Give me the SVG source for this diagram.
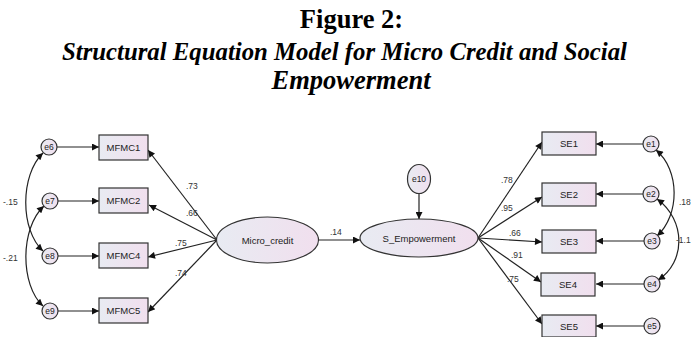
<svg xmlns="http://www.w3.org/2000/svg" width="693" height="337" viewBox="0 0 693 337">
<style>
.ttl{font-family:"Liberation Serif","Times New Roman",serif;font-weight:bold;fill:#000;text-anchor:middle}
.box{fill:url(#g);stroke:#333;stroke-width:1.2}
.lbl{font-family:"Liberation Sans",Arial,sans-serif;font-size:9.5px;fill:#222;text-anchor:middle}
.err{font-family:"Liberation Sans",Arial,sans-serif;font-size:8.5px;fill:#222;text-anchor:middle}
.coef{font-family:"Liberation Sans",Arial,sans-serif;font-size:8.5px;fill:#333}
.ln{stroke:#222;stroke-width:1.2;fill:none;marker-end:url(#ah)}
.cv{stroke:#222;stroke-width:1.2;fill:none;marker-end:url(#ah);marker-start:url(#ah)}
</style>
<defs>
<linearGradient id="g" x1="0" y1="0" x2="1" y2="0">
<stop offset="0" stop-color="#e8ebf2"/>
<stop offset="1" stop-color="#f1dfee"/>
</linearGradient>
<marker id="ah" viewBox="0 0 10 10" refX="10" refY="5" markerWidth="9" markerHeight="7" markerUnits="userSpaceOnUse" orient="auto-start-reverse">
<path d="M0,0 L10,5 L0,10 z" fill="#111"/>
</marker>
</defs>
<rect width="693" height="337" fill="#fff"/>
<g id="title">
<text class="ttl" x="351.5" y="28" font-size="26.5">Figure 2:</text>
<text class="ttl" x="344.5" y="60" font-size="25" font-style="italic" textLength="565" lengthAdjust="spacingAndGlyphs">Structural Equation Model for Micro Credit and Social</text>
<text class="ttl" x="351" y="89" font-size="26.5" font-style="italic">Empowerment</text>
</g>
<g id="connectors">
<line class="ln" x1="57" y1="147" x2="99" y2="147"/>
<line class="ln" x1="58" y1="201" x2="99" y2="201"/>
<line class="ln" x1="58" y1="256" x2="99" y2="256"/>
<line class="ln" x1="58" y1="311" x2="99" y2="311"/>
<line class="ln" x1="217" y1="240" x2="148" y2="150"/>
<line class="ln" x1="217" y1="240" x2="149" y2="205"/>
<line class="ln" x1="217" y1="240" x2="148" y2="257"/>
<line class="ln" x1="217" y1="240" x2="148" y2="312"/>
<line class="ln" x1="318" y1="240" x2="360" y2="240"/>
<line class="ln" x1="419" y1="193" x2="419" y2="219"/>
<line class="ln" x1="478" y1="238" x2="542" y2="142"/>
<line class="ln" x1="478" y1="238" x2="542" y2="197"/>
<line class="ln" x1="478" y1="238" x2="542" y2="242"/>
<line class="ln" x1="478" y1="238" x2="541" y2="282"/>
<line class="ln" x1="478" y1="238" x2="542" y2="324"/>
<line class="ln" x1="643" y1="144" x2="596" y2="144"/>
<line class="ln" x1="643" y1="194" x2="596" y2="194"/>
<line class="ln" x1="644" y1="241" x2="596" y2="241"/>
<line class="ln" x1="644" y1="284" x2="596" y2="284"/>
<line class="ln" x1="644" y1="326" x2="596" y2="326"/>
<path class="cv" d="M43,153 C20,175 20,230 43,251"/>
<path class="cv" d="M44,206 C20,228 20,285 43,306"/>
<path class="cv" d="M656,150 C680,170 680,215 657,236"/>
<path class="cv" d="M657,199 C686,220 686,262 658,280"/>
<text class="coef" x="3" y="205">-.15</text>
<text class="coef" x="3" y="261">-.21</text>
<text class="coef" x="186" y="189">.73</text>
<text class="coef" x="186" y="216">.66</text>
<text class="coef" x="175" y="246">.75</text>
<text class="coef" x="175" y="276">.74</text>
<text class="coef" x="330" y="235">.14</text>
<text class="coef" x="501" y="183">.78</text>
<text class="coef" x="501" y="211">.95</text>
<text class="coef" x="509" y="236">.66</text>
<text class="coef" x="511" y="258">.91</text>
<text class="coef" x="507" y="282">.75</text>
<text class="coef" x="679" y="205">.18</text>
<text class="coef" x="676" y="243">-1.1</text>
</g>
<g id="e6"><circle class="box" cx="49" cy="147" r="8"/><text class="err" x="49" y="150">e6</text></g>
<g id="e7"><circle class="box" cx="50" cy="201" r="8" stroke="#335"/><text class="err" x="50" y="204">e7</text></g>
<g id="e8"><circle class="box" cx="50" cy="256" r="8"/><text class="err" x="50" y="259">e8</text></g>
<g id="e9"><circle class="box" cx="50" cy="311" r="8"/><text class="err" x="50" y="314">e9</text></g>
<g id="MFMC1"><rect class="box" x="99" y="135" width="49" height="25"/><text class="lbl" x="123.5" y="151">MFMC1</text></g>
<g id="MFMC2"><rect class="box" x="99" y="188" width="49" height="25"/><text class="lbl" x="123.5" y="204">MFMC2</text></g>
<g id="MFMC4"><rect class="box" x="99" y="243" width="49" height="25"/><text class="lbl" x="123.5" y="259">MFMC4</text></g>
<g id="MFMC5"><rect class="box" x="99" y="298" width="49" height="25"/><text class="lbl" x="123.5" y="314">MFMC5</text></g>
<g id="Micro_credit"><ellipse class="box" cx="267.5" cy="240" rx="51" ry="23"/><text class="lbl" x="267.5" y="243.5">Micro_credit</text></g>
<g id="e10"><ellipse class="box" cx="419" cy="179" rx="11.5" ry="14.5"/><text class="err" x="419" y="182">e10</text></g>
<g id="S_Empowerment"><ellipse class="box" cx="419" cy="238" rx="59" ry="19"/><text class="lbl" x="419" y="241.5">S_Empowerment</text></g>
<g id="SE1"><rect class="box" x="542" y="132" width="54" height="23"/><text class="lbl" x="569" y="147">SE1</text></g>
<g id="SE2"><rect class="box" x="542" y="183" width="54" height="23"/><text class="lbl" x="569" y="198">SE2</text></g>
<g id="SE3"><rect class="box" x="542" y="230" width="54" height="23"/><text class="lbl" x="569" y="245">SE3</text></g>
<g id="SE4"><rect class="box" x="541" y="273" width="54" height="23"/><text class="lbl" x="568" y="288">SE4</text></g>
<g id="SE5"><rect class="box" x="542" y="315" width="54" height="22"/><text class="lbl" x="569" y="329.5">SE5</text></g>
<g id="e1"><circle class="box" cx="651" cy="144" r="8"/><text class="err" x="651" y="147">e1</text></g>
<g id="e2"><circle class="box" cx="651" cy="194" r="8"/><text class="err" x="651" y="197">e2</text></g>
<g id="e3"><circle class="box" cx="652" cy="241" r="8"/><text class="err" x="652" y="244">e3</text></g>
<g id="e4"><circle class="box" cx="652" cy="284" r="8"/><text class="err" x="652" y="287">e4</text></g>
<g id="e5"><circle class="box" cx="652" cy="326" r="8"/><text class="err" x="652" y="329">e5</text></g>
</svg>
